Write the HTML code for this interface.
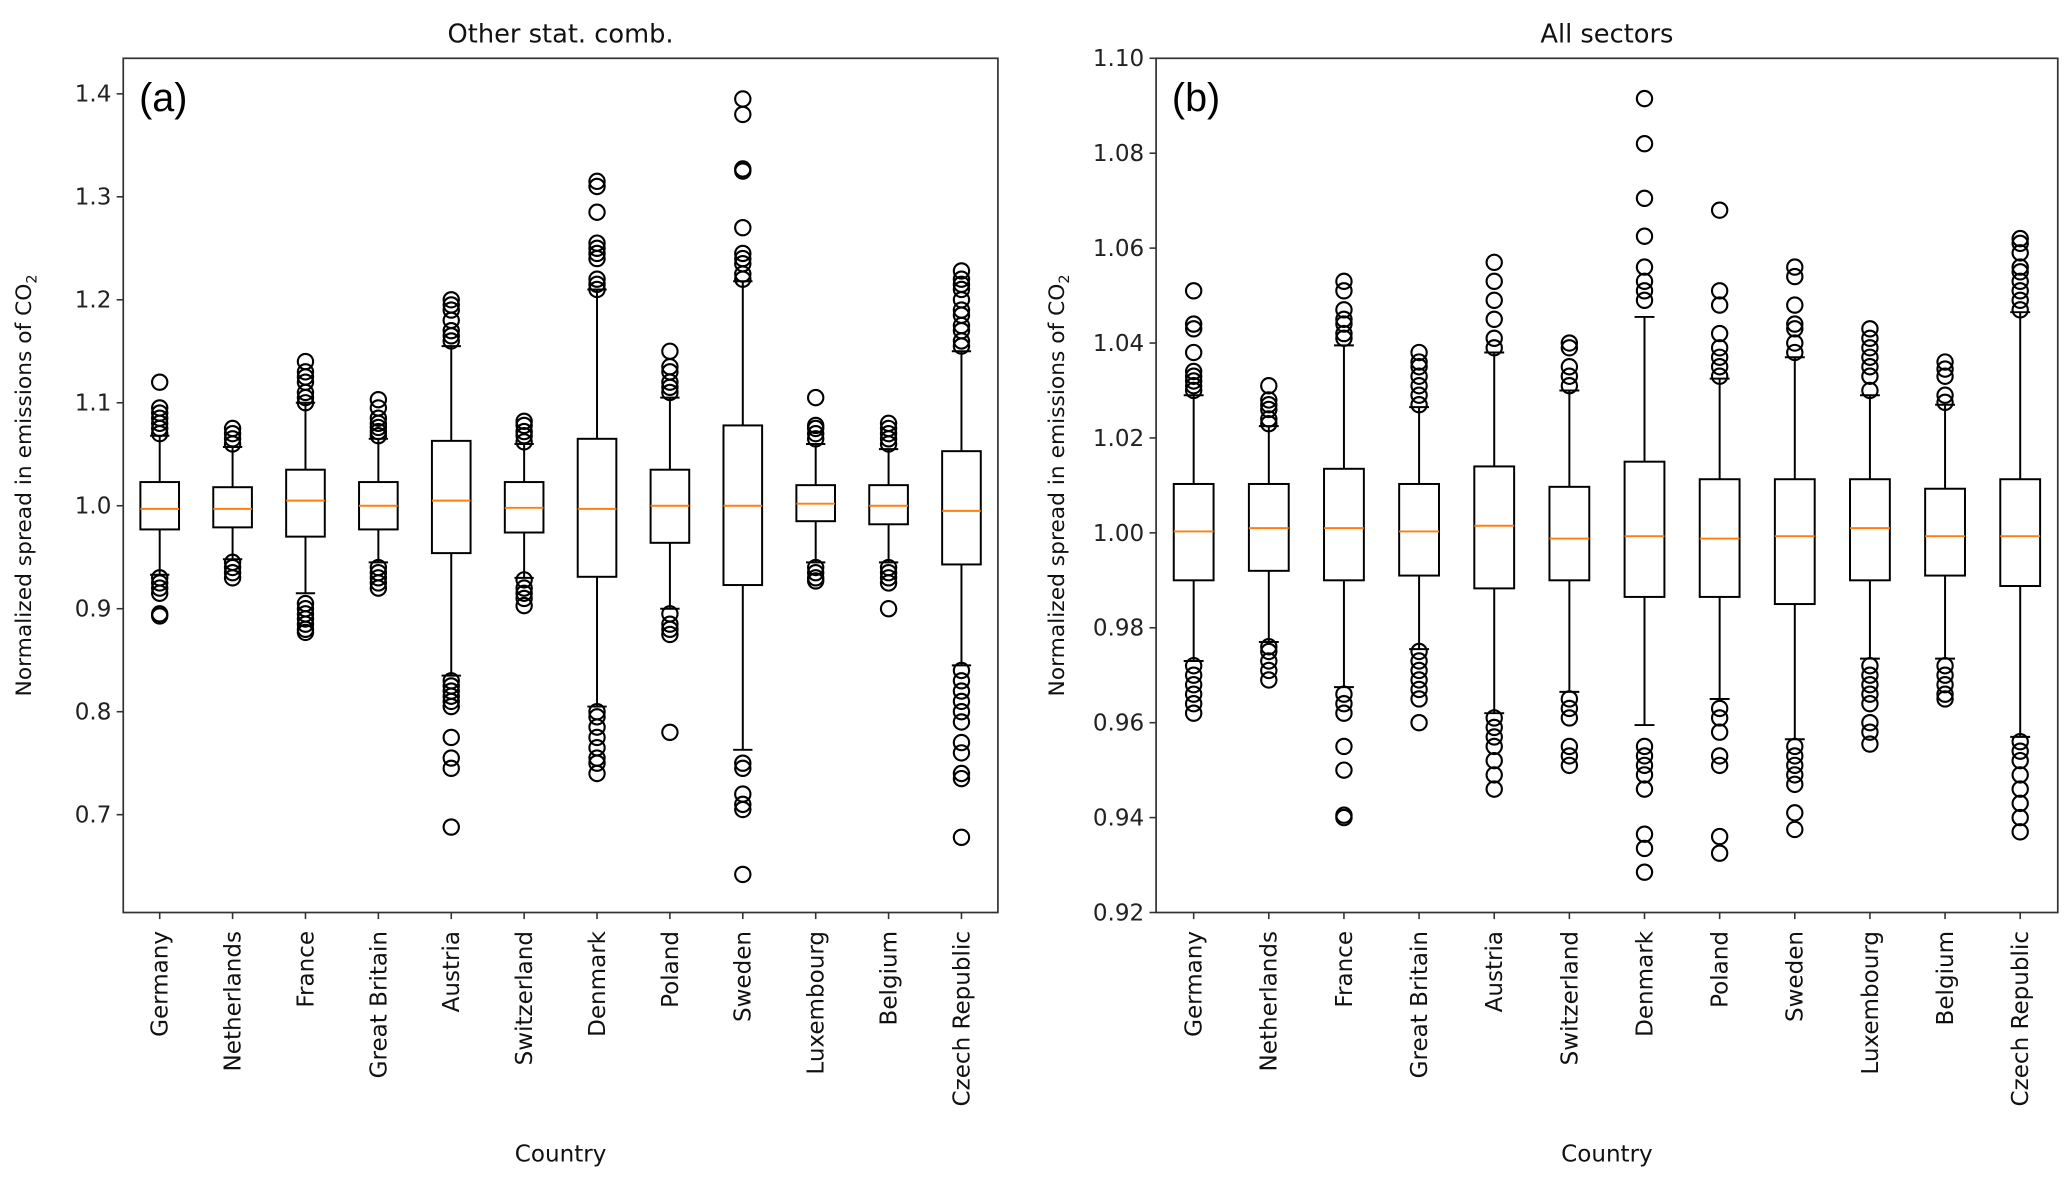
<!DOCTYPE html>
<html><head><meta charset="utf-8"><style>
html,body{margin:0;padding:0;background:#fff;}
svg{display:block;font-family:"DejaVu Sans","Liberation Sans",sans-serif;}
</style></head><body>
<svg id="chart" width="2067" height="1187" viewBox="0 0 1568 900" xmlns="http://www.w3.org/2000/svg"></svg>
<script>
const categories = ["Germany","Netherlands","France","Great Britain","Austria","Switzerland","Denmark","Poland","Sweden","Luxembourg","Belgium","Czech Republic"];
// panel (a)
const aQ1 = [0.977,0.979,0.970,0.977,0.954,0.974,0.931,0.964,0.923,0.985,0.982,0.943];
const aMed = [0.997,0.997,1.005,1.000,1.005,0.998,0.997,1.000,1.000,1.002,1.000,0.995];
const aQ3 = [1.023,1.018,1.035,1.023,1.063,1.023,1.065,1.035,1.078,1.020,1.020,1.053];
const aWlo = [0.933,0.948,0.915,0.945,0.835,0.930,0.805,0.900,0.763,0.945,0.945,0.845];
const aWhi = [1.068,1.057,1.100,1.065,1.155,1.060,1.210,1.105,1.218,1.060,1.055,1.150];
const aFliers = [
 [1.07,1.075,1.08,1.085,1.09,1.095,1.12,0.93,0.925,0.92,0.915,0.895,0.893],
 [1.06,1.065,1.07,1.075,0.945,0.94,0.935,0.93],
 [1.1,1.105,1.11,1.12,1.125,1.13,1.14,0.905,0.9,0.895,0.89,0.885,0.88,0.877],
 [1.068,1.072,1.076,1.08,1.085,1.095,1.103,0.94,0.935,0.93,0.925,0.92],
 [1.16,1.165,1.17,1.18,1.19,1.195,1.2,0.83,0.825,0.82,0.815,0.81,0.805,0.775,0.755,0.745,0.688],
 [1.062,1.068,1.072,1.078,1.082,0.928,0.92,0.915,0.91,0.903],
 [1.21,1.215,1.22,1.24,1.245,1.25,1.255,1.285,1.31,1.315,0.8,0.795,0.785,0.775,0.765,0.755,0.75,0.74],
 [1.11,1.115,1.12,1.13,1.135,1.15,0.895,0.885,0.88,0.875,0.78],
 [1.22,1.225,1.235,1.24,1.245,1.27,1.325,1.327,1.38,1.395,0.75,0.745,0.72,0.71,0.705,0.642],
 [1.065,1.07,1.075,1.078,1.105,0.94,0.935,0.93,0.927],
 [1.06,1.065,1.07,1.075,1.08,0.94,0.935,0.93,0.925,0.9],
 [1.155,1.16,1.17,1.175,1.185,1.19,1.2,1.21,1.215,1.22,1.228,0.84,0.83,0.82,0.81,0.8,0.79,0.77,0.76,0.74,0.735,0.678]
];
const aTicks = [0.7,0.8,0.9,1.0,1.1,1.2,1.3,1.4];
const aTickLabels = ["0.7","0.8","0.9","1.0","1.1","1.2","1.3","1.4"];
// panel (b)
const bQ1 = [0.990,0.992,0.990,0.991,0.9883,0.990,0.9865,0.9865,0.985,0.990,0.991,0.9888];
const bMed = [1.0003,1.001,1.001,1.0003,1.0015,0.9988,0.9993,0.9988,0.9993,1.001,0.9993,0.9993];
const bQ3 = [1.0103,1.0103,1.0135,1.0103,1.014,1.0097,1.015,1.0113,1.0113,1.0113,1.0093,1.0113];
const bWlo = [0.973,0.977,0.9675,0.9755,0.962,0.9665,0.9595,0.965,0.9565,0.9735,0.9735,0.957];
const bWhi = [1.029,1.0225,1.0395,1.0265,1.038,1.030,1.0455,1.0325,1.037,1.029,1.027,1.0465];
const bFliers = [
 [1.03,1.031,1.032,1.033,1.034,1.038,1.043,1.044,1.051,0.972,0.97,0.968,0.966,0.964,0.962],
 [1.023,1.024,1.026,1.027,1.028,1.031,0.976,0.975,0.973,0.971,0.969],
 [1.041,1.042,1.044,1.045,1.047,1.051,1.053,0.966,0.964,0.962,0.955,0.95,0.9405,0.94],
 [1.027,1.029,1.031,1.033,1.035,1.036,1.038,0.975,0.973,0.971,0.969,0.967,0.965,0.96],
 [1.039,1.041,1.045,1.049,1.053,1.057,0.961,0.959,0.957,0.955,0.952,0.949,0.946],
 [1.031,1.033,1.035,1.039,1.04,0.965,0.963,0.961,0.955,0.953,0.951],
 [1.049,1.051,1.053,1.056,1.0625,1.0705,1.082,1.0915,0.955,0.953,0.951,0.949,0.946,0.9365,0.9335,0.9285],
 [1.033,1.035,1.037,1.039,1.042,1.048,1.051,1.068,0.963,0.961,0.958,0.953,0.951,0.936,0.9325],
 [1.038,1.04,1.043,1.044,1.048,1.054,1.056,0.955,0.953,0.951,0.949,0.947,0.941,0.9375],
 [1.03,1.033,1.035,1.037,1.039,1.041,1.043,0.972,0.97,0.968,0.966,0.964,0.96,0.958,0.9555],
 [1.0275,1.029,1.033,1.0345,1.036,0.972,0.97,0.968,0.966,0.965],
 [1.047,1.049,1.051,1.053,1.055,1.056,1.059,1.061,1.062,0.956,0.954,0.952,0.949,0.946,0.943,0.94,0.937]
];
const bTicks = [0.92,0.94,0.96,0.98,1.00,1.02,1.04,1.06,1.08,1.10];
const bTickLabels = ["0.92","0.94","0.96","0.98","1.00","1.02","1.04","1.06","1.08","1.10"];

const NS="http://www.w3.org/2000/svg";
const svg=document.getElementById('chart');
function mk(tag,attrs,parent,text){const e=document.createElementNS(NS,tag);for(const k in attrs)e.setAttribute(k,attrs[k]);if(text!==undefined)e.textContent=text;(parent||svg).appendChild(e);return e;}

function panel(cfg){
  const g=mk('g',{});
  
  
  const L=cfg.x0,R=cfg.x1,T=44,B=692;
  const n=categories.length;
  const xs=i=>L+(i+0.5)*(R-L)/n;
  const ys=v=>B-(v-cfg.ymin)/(cfg.ymax-cfg.ymin)*(B-T);
  const bw=0.53*(R-L)/n;
  const t=mk('text',{x:(L+R)/2,y:32,'text-anchor':'middle','font-size':19.5,fill:'#111'},g,cfg.title);
  
  
  const pl=mk('text',{x:L+12,y:84,'font-size':30,fill:'#000','font-family':'Liberation Sans, sans-serif'},g,cfg.letter);
  
  
  cfg.ticks.forEach((v,k)=>{
    const y=ys(v);
    const tk=mk('line',{x1:L-5,x2:L,y1:y,y2:y,stroke:'#333','stroke-width':1.2},g);
    
    
    const lb=mk('text',{x:L-9,y:y+6,'text-anchor':'end','font-size':17.5,fill:'#222'},g,cfg.tickLabels[k]);
    
    
  });
  const yl=mk('text',{transform:`translate(${L-70},${(T+B)/2}) rotate(-90)`,'text-anchor':'middle','font-size':16.5,fill:'#111'},g);
  
  
  yl.innerHTML='Normalized spread in emissions of CO<tspan font-size="11" dy="4">2</tspan>';
  const xl=mk('text',{x:(L+R)/2,y:881,'text-anchor':'middle','font-size':17.5,fill:'#111'},g,'Country');
  
  
  categories.forEach((c,i)=>{
    const x=xs(i);
    const tk=mk('line',{x1:x,x2:x,y1:B,y2:B+5,stroke:'#333','stroke-width':1.2},g);
    
    
    const lb=mk('text',{transform:`translate(${x+6},${B+14}) rotate(-90)`,'text-anchor':'end','font-size':17.5,fill:'#111'},g,c);
    
    
    const bg=mk('g',{fill:'none',stroke:'#000','stroke-width':1.5},g);
    
    
    mk('line',{x1:x,x2:x,y1:ys(cfg.q3[i]),y2:ys(cfg.whi[i])},bg);
    mk('line',{x1:x,x2:x,y1:ys(cfg.q1[i]),y2:ys(cfg.wlo[i])},bg);
    mk('line',{x1:x-bw/4,x2:x+bw/4,y1:ys(cfg.whi[i]),y2:ys(cfg.whi[i])},bg);
    mk('line',{x1:x-bw/4,x2:x+bw/4,y1:ys(cfg.wlo[i]),y2:ys(cfg.wlo[i])},bg);
    mk('rect',{x:x-bw/2,y:ys(cfg.q3[i]),width:bw,height:ys(cfg.q1[i])-ys(cfg.q3[i])},bg);
    mk('line',{x1:x-bw/2,x2:x+bw/2,y1:ys(cfg.med[i]),y2:ys(cfg.med[i]),stroke:'#ff7f0e'},bg);
    cfg.fliers[i].forEach(v=>{
      const c2=mk('circle',{cx:x,cy:ys(v),r:5.8,'stroke-width':1.6},bg);
      
      
    });
  });
  const fr=mk('rect',{x:L,y:T,width:R-L,height:B-T,fill:'none',stroke:'#333','stroke-width':1.3},g);
  
  
}
panel({name:'panel-a',x0:93.5,x1:757,ymin:0.605,ymax:1.4345,title:'Other stat. comb.',letter:'(a)',ticks:aTicks,tickLabels:aTickLabels,q1:aQ1,med:aMed,q3:aQ3,wlo:aWlo,whi:aWhi,fliers:aFliers});
panel({name:'panel-b',x0:877,x1:1561,ymin:0.92,ymax:1.10,title:'All sectors',letter:'(b)',ticks:bTicks,tickLabels:bTickLabels,q1:bQ1,med:bMed,q3:bQ3,wlo:bWlo,whi:bWhi,fliers:bFliers});
</script>
</body></html>
